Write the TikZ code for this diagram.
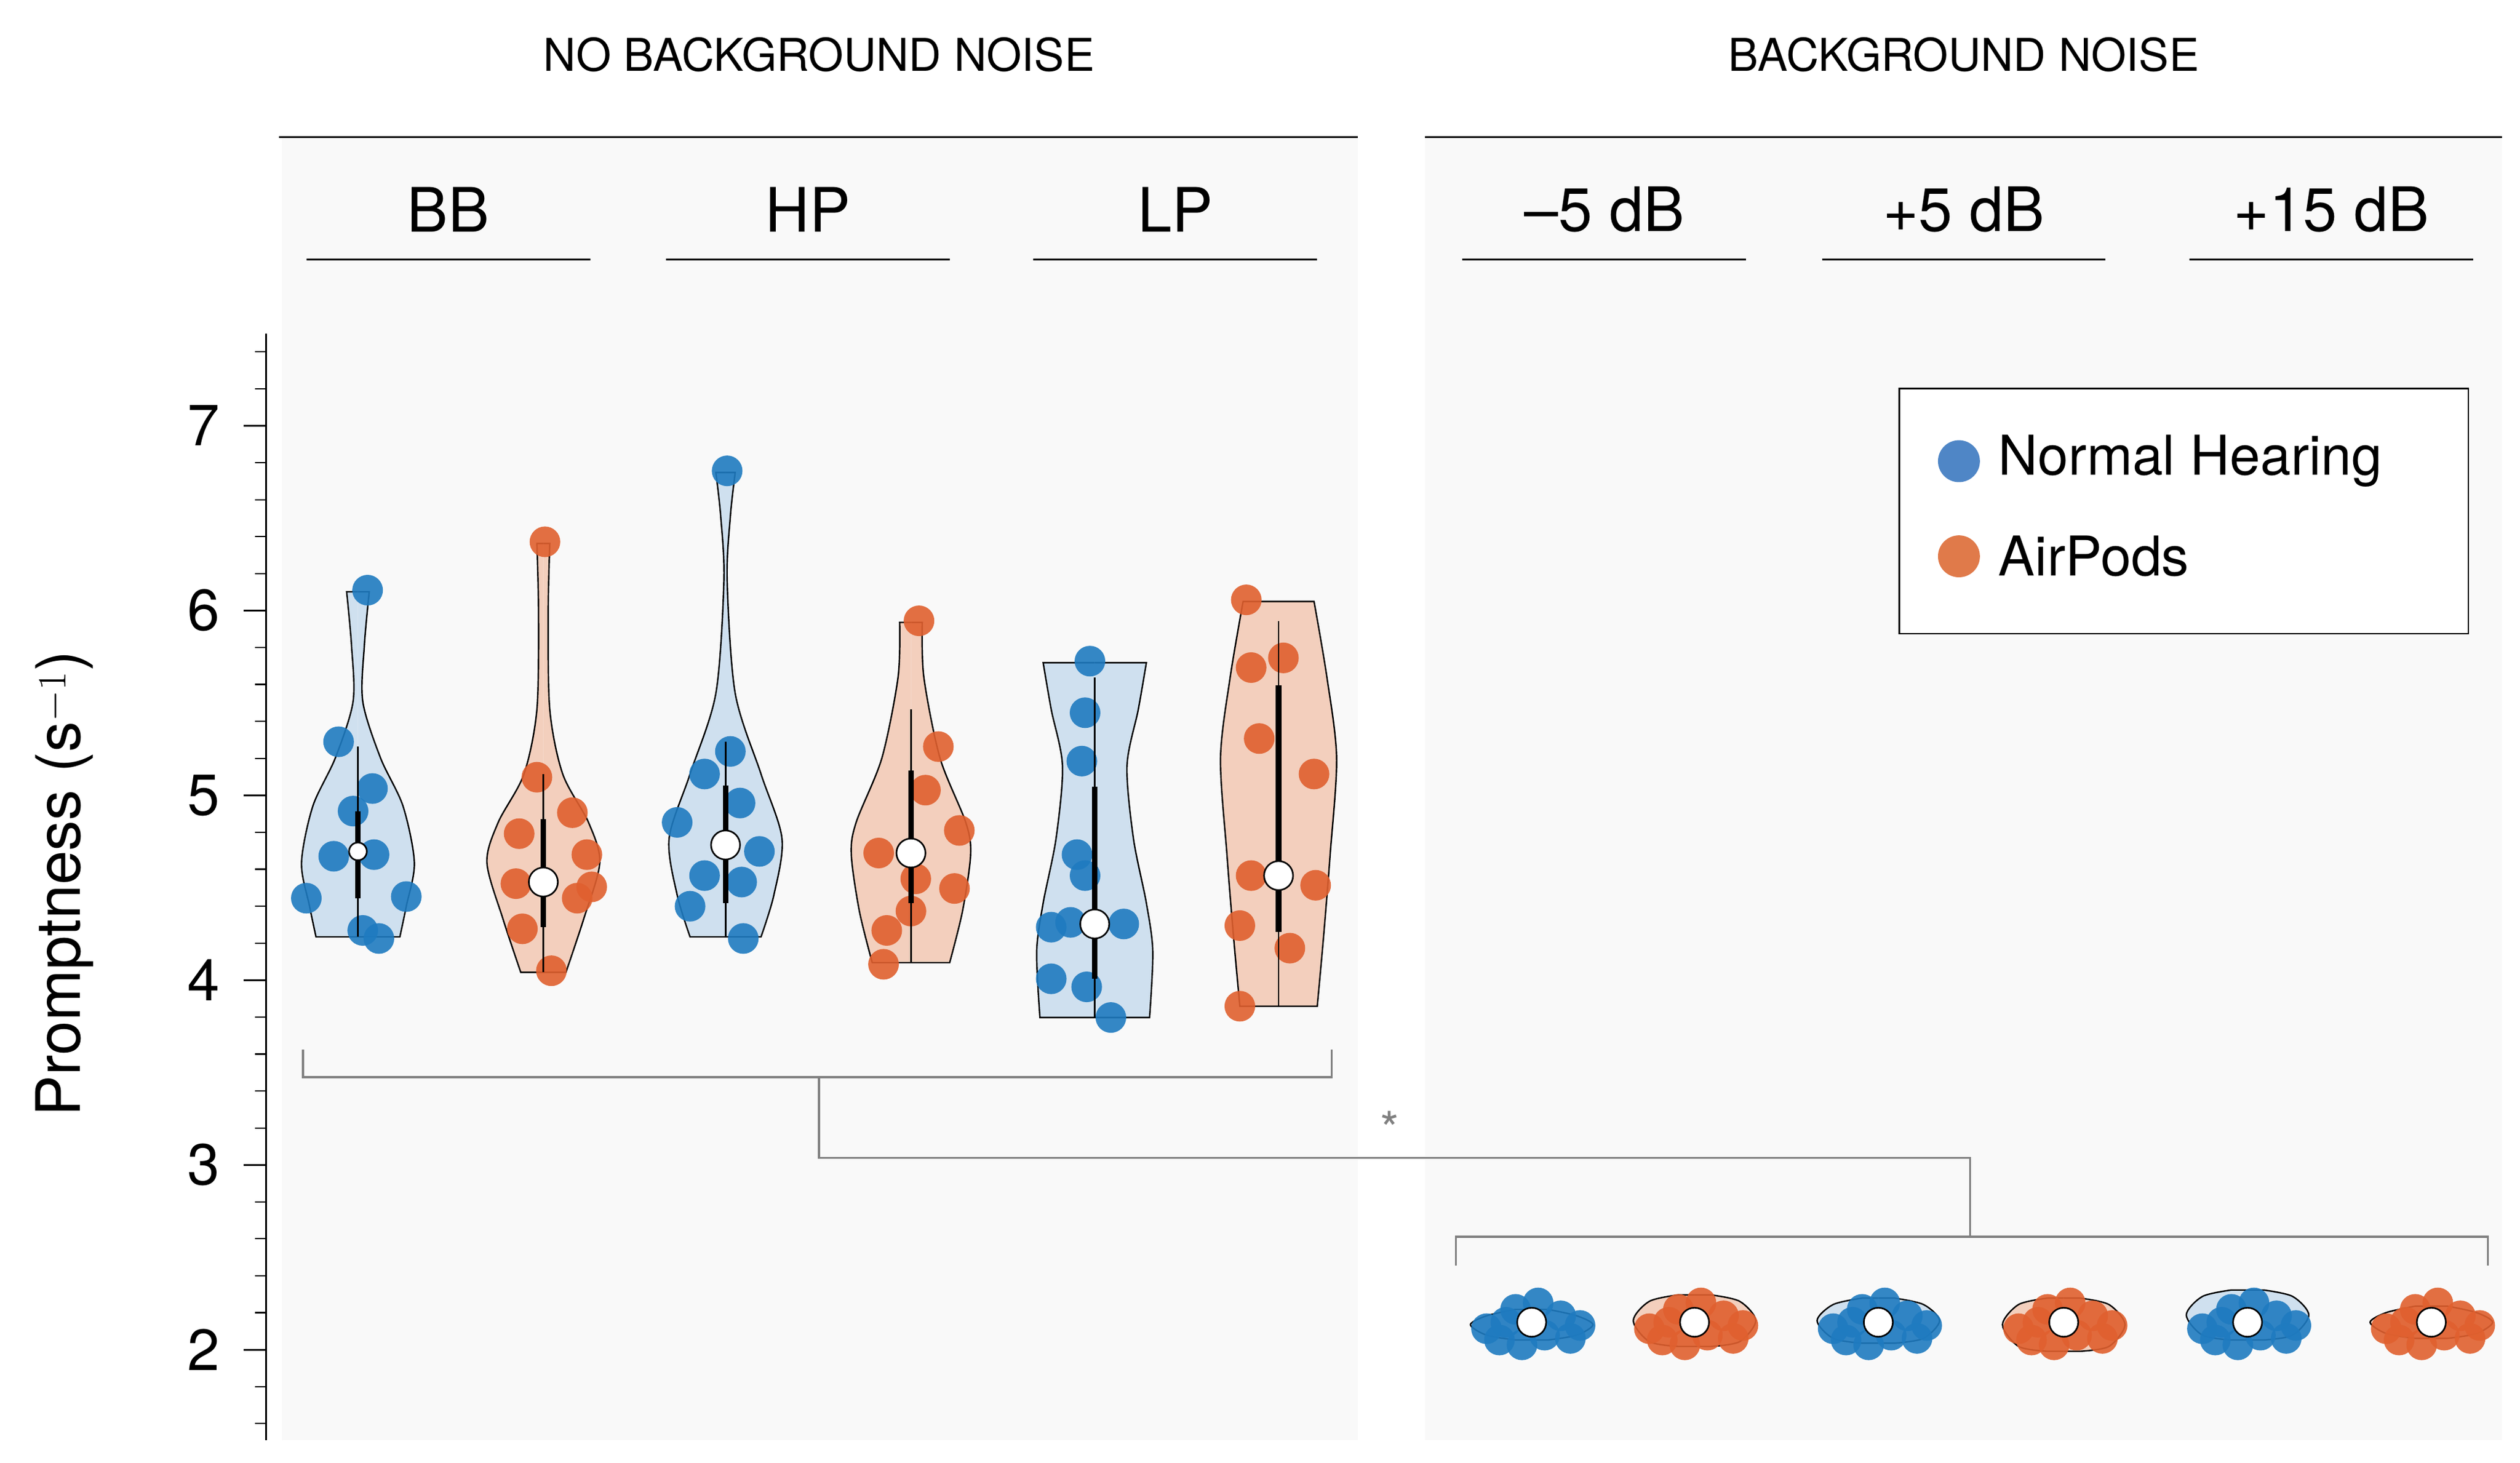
\documentclass[tikz,border=0pt]{standalone}
\usepackage{fontspec}
\setmainfont{TeX Gyre Heros}
\definecolor{nhb}{HTML}{1F7BC0}
\definecolor{apo}{HTML}{E0602F}
\definecolor{nhf}{HTML}{CFE0EF}
\definecolor{apf}{HTML}{F3CFBD}
\definecolor{lgb}{HTML}{4F86C6}
\definecolor{lgo}{HTML}{E07A4A}
\definecolor{bg}{HTML}{F9F9F9}
\newcommand\vio[5]{\begin{scope}[xshift=#1pt]
\foreach \s in {1,-1}{\begin{scope}[xscale=\s]
\fill[#2] (0,#3) -- plot[smooth] coordinates{#5} -- (0,#4) -- cycle;
\draw[line width=0.9pt] (0,#3) -- plot[smooth] coordinates{#5} -- (0,#4);
\end{scope}}\end{scope}}
\newcommand\bx[6]{\draw[line width=1pt] (#1,#2)--(#1,#5); \draw[line width=3.5pt] (#1,#3)--(#1,#4); \node[med,minimum size=#6] at (#1,\medy) {};}
\newcommand\medy{0}
\begin{document}
\begin{tikzpicture}[x=1pt,y=-1pt,
 nh/.style={circle,fill=nhb,fill opacity=0.9,inner sep=0,minimum size=19pt},
 ap/.style={circle,fill=apo,fill opacity=0.9,inner sep=0,minimum size=19pt},
 med/.style={circle,draw=black,fill=white,line width=1pt,inner sep=0,minimum size=18pt},
 hdr/.style={font=\fontsize{28}{30}\selectfont},
 sub/.style={font=\fontsize{38}{40}\selectfont},
 tl/.style={font=\fontsize{36}{38}\selectfont,anchor=east},
 br/.style={draw=gray,line width=1.3pt}]
\useasboundingbox (0,0) rectangle (1563,907);
\fill[bg] (175,85) rectangle (842,893);
\fill[bg] (884,85) rectangle (1552,893);
\draw[line width=1pt] (173,85)--(842,85) (884,85)--(1552,85);
\node[hdr] (h1) at (508,34) {NO BACKGROUND NOISE};
\node[hdr] (h2) at (1218,34) {BACKGROUND NOISE};
\foreach \a/\t in {278/BB,501/HP,729/LP,995/{--5 dB},1218/{+5 dB},1446/{+15 dB}}{
 \draw[line width=1pt] (\a-88,161)--(\a+88,161);
 \node[sub] at (\a,130) {\t};}
% axis
\draw[line width=1pt] (165,207)--(165,893);
\foreach \v in {2,3,4,5,6,7}{\draw[line width=1pt] (165,837-114.6*\v+229.2)--(151,837-114.6*\v+229.2);
 \node[tl] at (140,837-114.6*\v+229.2) {\v};}
\foreach \i in {-2,...,27}{\draw[line width=0.8pt] (165,837-22.92*\i)--(158,837-22.92*\i);}
\node[rotate=90,font=\fontsize{38}{40}\selectfont] (yl) at (40,548) {Promptness (s$^{-1}$)};
% BB NH
\vio{222}{nhf}{367}{581}{(7,367)(4,400)(3,435)(14,470)(28,500)(35,535)(30,562)(26,581)}
\foreach \p in {(228,366),(210,460),(231,489),(219,503),(207,531),(232,530),(190,557),(252,556),(225,577),(235,582)}\node[nh] at \p {};
\renewcommand\medy{528}\bx{222}{463}{503}{557}{581}{11pt}
% BB AP
\vio{337}{apf}{337}{603}{(4,337)(3,380)(4,440)(12,480)(28,510)(35,535)(25,570)(14,603)}
\foreach \p in {(338,336),(333,482),(322,517),(355,504),(364,530),(320,548),(358,557),(367,550),(324,576),(342,602)}\node[ap] at \p {};
\renewcommand\medy{547}\bx{337}{480}{508}{575}{603}{18pt}
% HP NH
\vio{450}{nhf}{293}{581}{(6,293)(3,320)(1,360)(6,430)(22,480)(35,520)(30,555)(22,581)}
\foreach \p in {(451,292),(453,466),(437,480),(459,498),(420,510),(471,528),(437,543),(460,547),(428,562),(461,582)}\node[nh] at \p {};
\renewcommand\medy{524}\bx{450}{460}{487}{560}{581}{18pt}
% HP AP
\vio{565}{apf}{386}{597}{(7,386)(8,420)(18,470)(34,510)(37,530)(32,565)(24,597)}
\foreach \p in {(570,385),(582,463),(574,490),(595,515),(545,529),(568,545),(592,551),(565,565),(550,577),(548,598)}\node[ap] at \p {};
\renewcommand\medy{529}\bx{565}{440}{478}{560}{597}{18pt}
% LP NH
\vio{679}{nhf}{411}{631}{(32,411)(27,440)(20,475)(24,520)(32,560)(36,590)(34,631)}
\foreach \p in {(676,410),(673,442),(671,472),(668,530),(673,543),(652,575),(664,572),(697,573),(652,607),(674,612),(689,631)}\node[nh] at \p {};
\renewcommand\medy{573}\bx{679}{420}{488}{607}{631}{18pt}
% LP AP
\vio{793}{apf}{373}{624}{(22,373)(30,420)(36,470)(32,530)(28,580)(24,624)}
\foreach \p in {(773,372),(776,414),(796,408),(781,458),(815,480),(776,543),(816,549),(769,574),(800,588),(769,624)}\node[ap] at \p {};
\renewcommand\medy{543}\bx{793}{385}{425}{578}{624}{18pt}
% right group
\foreach \c/\f/\st/\ty/\by in {950/nhf/nh/812/831,1051/apf/ap/803/835,1165/nhf/nh/805/833,1280/apf/ap/805/838,1394/nhf/nh/800/831,1508/apf/ap/810/830}{
 \vio{\c}{\f}{\ty}{\by}{(10,\ty)(28,\ty+4)(38,\ty/2+\by/2)(28,\by-3)(10,\by)}
 \foreach \dx/\dy in {-28/824,-20/831,-10/812,-6/834,8/828,18/816,4/808,-16/820,24/830,30/822}
   \node[\st] at (\c+\dx,\dy) {};
 \node[med] at (\c,820) {};}
% brackets
\draw[br] (188,651)--(188,668)--(826,668)--(826,651);
\coordinate (s1) at (508,668); \coordinate (s2) at (1222,767);
\draw[br] (s1)--(508,718)--(1222,718)--(s2);
\draw[br] (903,785)--(903,767)--(1543,767)--(1543,785);
\node[gray,font=\fontsize{30}{30}\selectfont] (ast) at (862,700) {*};
% legend
\draw[line width=1pt,fill=white] (1178,241) rectangle (1531,393);
\node[circle,fill=lgb,inner sep=0,minimum size=26pt] (l1) at (1215,286) {};
\node[circle,fill=lgo,inner sep=0,minimum size=26pt] (l2) at (1215,345) {};
\node[anchor=west,font=\fontsize{34}{36}\selectfont] at (1236,286) {Normal Hearing};
\node[anchor=west,font=\fontsize{34}{36}\selectfont] at (1236,345) {AirPods};
\end{tikzpicture}
\end{document}
